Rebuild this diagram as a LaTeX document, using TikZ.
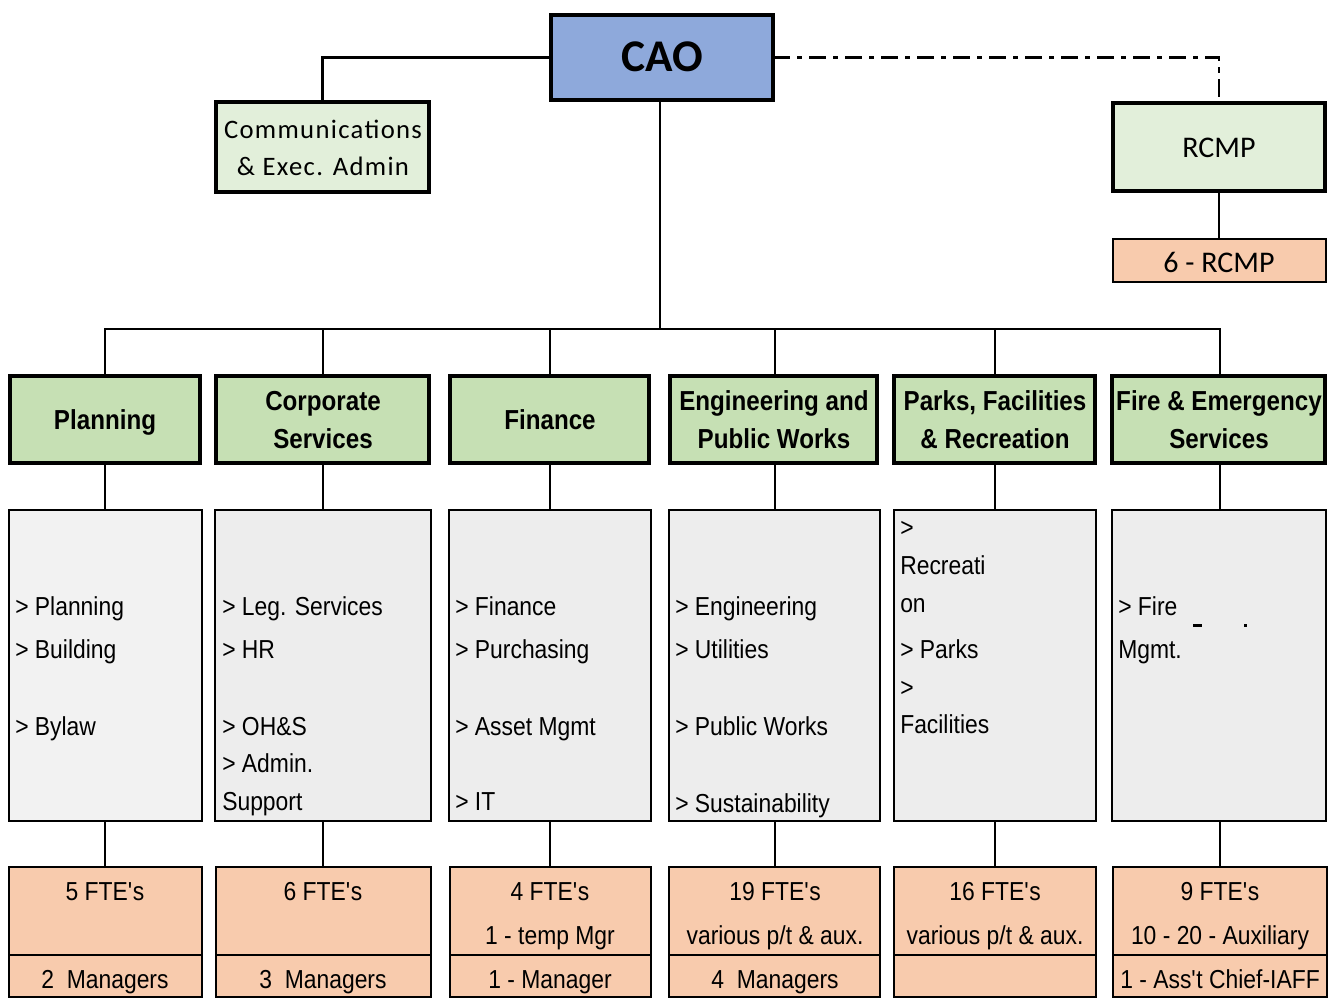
\documentclass[tikz,border=0pt]{standalone}
\usepackage{fontspec}
\setmainfont{Liberation Sans}
\newfontfamily\arnarrow[FakeStretch=0.88]{Liberation Sans}
\newfontfamily\calfont{Carlito}
\newfontfamily\calspaced[LetterSpace=5]{Carlito}
\definecolor{caoblue}{HTML}{8EA9DB}
\definecolor{palegreen}{HTML}{E2EFDA}
\definecolor{deptgreen}{HTML}{C6E0B4}
\definecolor{listgray}{HTML}{EDEDED}
\definecolor{listlight}{HTML}{F2F2F2}
\definecolor{staffpeach}{HTML}{F8CBAD}
% rectangle node given by its left, top, right and bottom border lines
\newcommand\orgbox[6]{%
  \node[#1,minimum width={(#5-#3)*0.75pt},minimum height={(#6-#4)*0.75pt}]
    (#2) at ({(#3+#5)/2},{(#4+#6)/2}) {};}
\begin{document}
\begin{tikzpicture}[x=0.75pt,y=-0.75pt,
  box/.style={draw=black,inner sep=0pt,outer sep=0pt,rectangle},
  caobox/.style={box,fill=caoblue,line width=3pt},
  sidebox/.style={box,fill=palegreen,line width=3pt},
  deptbox/.style={box,fill=deptgreen,line width=3.6pt},
  listbox/.style={box,fill=listgray,line width=2.2pt},
  staffbox/.style={box,fill=staffpeach,line width=2.2pt},
  link/.style={line width=2.2pt},
  rcmplink/.style={line width=2.2pt,dash pattern=on 13pt off 5pt on 4pt off 5pt},
  hdr/.style={font=\arnarrow\bfseries\fontsize{20.6}{24}\selectfont,anchor=base,inner sep=0pt},
  lst/.style={font=\arnarrow\fontsize{19.5}{23}\selectfont,anchor=base west,inner sep=0pt},
  cnt/.style={font=\arnarrow\fontsize{19.5}{23}\selectfont,anchor=base,inner sep=0pt},
]
\useasboundingbox (0,0) rectangle (1331,998);

% ---------- top level ----------
\orgbox{caobox}{cao}{551}{15}{773}{100}
\orgbox{sidebox}{comm}{216}{102}{429}{192}
\orgbox{sidebox}{rcmp}{1113}{103}{1325}{191}
\orgbox{staffbox}{rcmpstaff}{1113}{239}{1326}{282}

\node[font=\calfont\bfseries\fontsize{34}{40}\selectfont,anchor=base,inner sep=0pt] (caotxt) at (662,72) {CAO};
\node[font=\calspaced\fontsize{20}{24}\selectfont,anchor=base,inner sep=0pt] (commA) at (323,139) {Communications};
\node[font=\calspaced\fontsize{20}{24}\selectfont,anchor=base,inner sep=0pt] (commB) at (323,176) {\& Exec. Admin};
\node[font=\calfont\fontsize{22.5}{26}\selectfont,anchor=base,inner sep=0pt] (rcmptxt) at (1219,158) {RCMP};
\node[font=\calfont\fontsize{22.5}{26}\selectfont,anchor=base,inner sep=0pt] (rcmpstafftxt) at (1219,273) {6 - RCMP};

% ---------- departments ----------
\orgbox{deptbox}{h1}{10}{376}{200}{463}
\orgbox{deptbox}{h2}{216}{376}{429}{463}
\orgbox{deptbox}{h3}{450}{376}{649}{463}
\orgbox{deptbox}{h4}{670}{376}{877}{463}
\orgbox{deptbox}{h5}{894}{376}{1095}{463}
\orgbox{deptbox}{h6}{1112}{376}{1325}{463}

\node[hdr] (h1t) at (105,429) {Planning};
\node[hdr] (h2a) at (323,411) {Corporate};
\node[hdr] (h2b) at (323,448) {Services};
\node[hdr] (h3t) at (550,429) {Finance};
\node[hdr] (h4a) at (774,411) {Engineering and};
\node[hdr] (h4b) at (774,448) {Public Works};
\node[hdr] (h5a) at (995,411) {Parks, Facilities};
\node[hdr] (h5b) at (995,448) {\& Recreation};
\node[hdr] (h6a) at (1219,411) {Fire \& Emergency};
\node[hdr] (h6b) at (1219,448) {Services};

% ---------- service lists ----------
\orgbox{listbox,fill=listlight}{l1}{9}{510}{202}{821}
\orgbox{listbox}{l2}{215}{510}{431}{821}
\orgbox{listbox}{l3}{449}{510}{651}{821}
\orgbox{listbox}{l4}{669}{510}{880}{821}
\orgbox{listbox}{l5}{894}{510}{1096}{821}
\orgbox{listbox}{l6}{1112}{510}{1326}{821}

\node[lst] (l1a) at (15,615) {> Planning};
\node[lst] (l1b) at (15,658) {> Building};
\node[lst] (l1c) at (15,735) {> Bylaw};

\node[lst] (l2a) at (222,615) {> Leg. Services};
\node[lst] (l2b) at (222,658) {> HR};
\node[lst] (l2c) at (222,735) {> OH\&S};
\node[lst] (l2d) at (222,772) {> Admin.};
\node[lst] (l2e) at (222,810) {Support};

\node[lst] (l3a) at (455,615) {> Finance};
\node[lst] (l3b) at (455,658) {> Purchasing};
\node[lst] (l3c) at (455,735) {> Asset Mgmt};
\node[lst] (l3d) at (455,810) {> IT};

\node[lst] (l4a) at (675,615) {> Engineering};
\node[lst] (l4b) at (675,658) {> Utilities};
\node[lst] (l4c) at (675,735) {> Public Works};
\node[lst] (l4d) at (675,812) {> Sustainability};

\node[lst] (l5a) at (900,536) {>};
\node[lst] (l5b) at (900,574) {Recreati};
\node[lst] (l5c) at (900,612) {on};
\node[lst] (l5d) at (900,658) {> Parks};
\node[lst] (l5e) at (900,696) {>};
\node[lst] (l5f) at (900,733) {Facilities};

\node[lst] (l6a) at (1118,615) {> Fire};
\node[lst] (l6b) at (1118,658) {Mgmt.};
% clipped glyph remnants of the hidden line
\fill (1193,624) rectangle (1202,627);
\fill (1244,624) rectangle (1247,627);

% ---------- staffing ----------
\orgbox{staffbox}{s1}{9}{867}{202}{997}
\orgbox{staffbox}{s2}{216}{867}{431}{997}
\orgbox{staffbox}{s3}{450}{867}{651}{997}
\orgbox{staffbox}{s4}{669}{867}{880}{997}
\orgbox{staffbox}{s5}{894}{867}{1096}{997}
\orgbox{staffbox}{s6}{1113}{867}{1327}{997}
\foreach \n in {s1,s2,s3,s4,s5,s6}
  \draw[line width=2.2pt] (\n.west |- 0,955) -- (\n.east |- 0,955);

\node[cnt] (s1a) at (105,900) {5 FTE\textquotesingle s};
\node[cnt] (s1c) at (105,988) {2\ \ Managers};
\node[cnt] (s2a) at (323,900) {6 FTE\textquotesingle s};
\node[cnt] (s2c) at (323,988) {3\ \ Managers};
\node[cnt] (s3a) at (550,900) {4 FTE\textquotesingle s};
\node[cnt] (s3b) at (550,944) {1 - temp Mgr};
\node[cnt] (s3c) at (550,988) {1 - Manager};
\node[cnt] (s4a) at (775,900) {19 FTE\textquotesingle s};
\node[cnt] (s4b) at (775,944) {various p/t \& aux.};
\node[cnt] (s4c) at (775,988) {4\ \ Managers};
\node[cnt] (s5a) at (995,900) {16 FTE\textquotesingle s};
\node[cnt] (s5b) at (995,944) {various p/t \& aux.};
\node[cnt] (s6a) at (1220,900) {9 FTE\textquotesingle s};
\node[cnt] (s6b) at (1220,944) {10 - 20 - Auxiliary};
\node[cnt] (s6c) at (1220,988) {1 - Ass\textquotesingle t Chief-IAFF};

% ---------- connectors ----------
\coordinate (bus) at (660,329);
\draw[link] (cao.south -| bus) -- (bus);
\draw[link] (cao.west) -| (comm.north);
\draw[rcmplink] (cao.east) -| (rcmp.north);
\draw[link] (rcmp.south) -- (rcmp.south |- rcmpstaff.north);
\foreach \h/\l/\s/\x in {h1/l1/s1/105,h2/l2/s2/323,h3/l3/s3/550,h4/l4/s4/775,h5/l5/s5/995,h6/l6/s6/1220}{
  \draw[link] (\x,0 |- \h.north) -- (\x,0 |- bus) -- (bus);
  \draw[link] (\x,0 |- \h.south) -- (\x,0 |- \l.north);
  \draw[link] (\x,0 |- \l.south) -- (\x,0 |- \s.north);
}
\end{tikzpicture}
\end{document}
